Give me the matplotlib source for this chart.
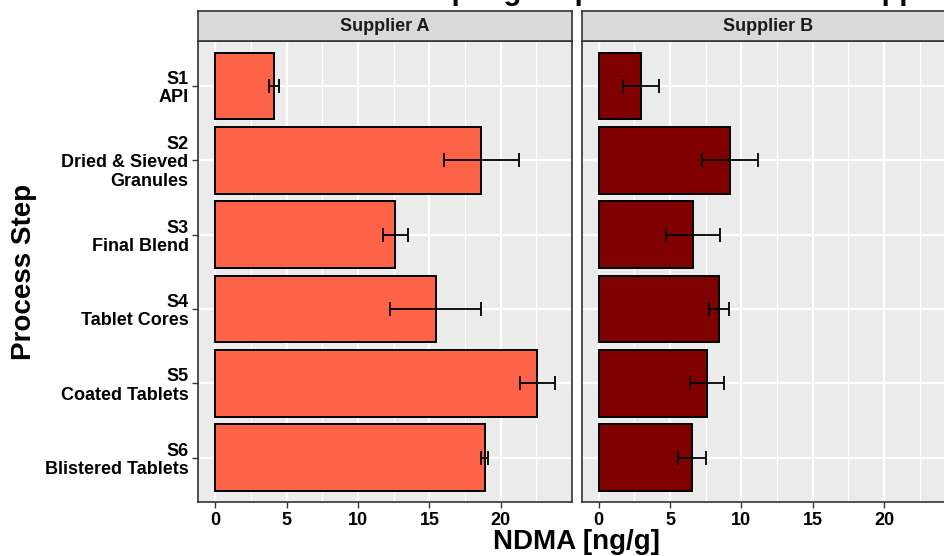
import numpy as np
import matplotlib
matplotlib.use("Agg")
import matplotlib.pyplot as plt
from matplotlib.ticker import MultipleLocator

plt.rcParams['font.family'] = ['Liberation Sans', 'DejaVu Sans']
plt.rcParams['font.weight'] = 'bold'

# process steps (top to bottom)
steps = ['S1\nAPI', 'S2\nDried & Sieved\nGranules', 'S3\nFinal Blend',
         'S4\nTablet Cores', 'S5\nCoated Tablets', 'S6\nBlistered Tablets']
suppliers = ['Supplier A', 'Supplier B']

# mean NDMA and standard deviation [ng/g]
mean_a = [4.14, 18.65, 12.60, 15.45, 22.56, 18.87]
sd_a = [0.35, 2.60, 0.88, 3.20, 1.22, 0.27]
mean_b = [2.95, 9.23, 6.62, 8.41, 7.59, 6.55]
sd_b = [1.26, 1.96, 1.90, 0.70, 1.17, 0.99]

colors = ['#FF6347', '#800000']

W, H = 944, 556
fig = plt.figure(figsize=(W / 100, H / 100), dpi=100)

xmax = max(max(np.add(mean_a, sd_a)), max(np.add(mean_b, sd_b)))
xlim = (-0.05 * xmax, 1.05 * xmax)
y = np.arange(len(steps))

panel_w = 373.4
lefts = [198.3, 581.7]
ptop, pbot = 41.4, 502.3
strip_top = 11

for i, (m, s) in enumerate([(mean_a, sd_a), (mean_b, sd_b)]):
    x0 = lefts[i]
    ax = fig.add_axes([x0 / W, 1 - pbot / H, panel_w / W, (pbot - ptop) / H])
    ax.set_facecolor('#EBEBEB')
    ax.barh(y, m, height=0.9, color=colors[i], edgecolor='black', linewidth=1.4, zorder=3)
    ax.errorbar(m, y, xerr=s, fmt='none', ecolor='black', elinewidth=1.3,
                capsize=5, capthick=1.3, zorder=4)
    ax.set_xlim(*xlim)
    ax.set_ylim(len(steps) - 0.4, -0.6)
    ax.xaxis.set_major_locator(MultipleLocator(5))
    ax.xaxis.set_minor_locator(MultipleLocator(2.5))
    ax.set_yticks(y)
    ax.grid(which='major', color='white', linewidth=1.6, zorder=0)
    ax.grid(which='minor', axis='x', color='white', linewidth=0.8, zorder=0)
    ax.set_axisbelow(True)
    ax.tick_params(which='minor', length=0)
    ax.tick_params(which='major', length=4, width=1, color='#333333',
                   labelsize=13, pad=3, labelcolor='black')
    if i == 0:
        ax.set_yticklabels(steps, ma='right', linespacing=1.1)
    else:
        ax.tick_params(axis='y', length=0, labelleft=False)
    for sp in ax.spines.values():
        sp.set_color('#333333')
        sp.set_linewidth(1.2)

    # facet strip
    sax = fig.add_axes([x0 / W, 1 - ptop / H, panel_w / W, (ptop - strip_top) / H])
    sax.set_facecolor('#D9D9D9')
    sax.set_xticks([])
    sax.set_yticks([])
    for sp in sax.spines.values():
        sp.set_color('#333333')
        sp.set_linewidth(1.2)
    sax.text(0.5, 0.5, suppliers[i], transform=sax.transAxes, ha='center',
             va='center', fontsize=13, fontweight='bold', color='#1A1A1A')

center_x = (lefts[0] + lefts[1] + panel_w) / 2
fig.text(center_x / W, 1 - 549 / H, 'NDMA [ng/g]', ha='center', va='baseline',
         fontsize=20, fontweight='bold')
fig.text(24 / W, 1 - (ptop + pbot) / 2 / H, 'Process Step', ha='center', va='center',
         rotation=90, fontsize=20, fontweight='bold')
fig.text((center_x - 43) / W, 1 - 0.5 / H,
         'NDMA Levels Across Sampling Steps of Two Different Suppliers',
         ha='center', va='baseline', fontsize=21, fontweight='bold')

fig.savefig('out.png', dpi=100)
